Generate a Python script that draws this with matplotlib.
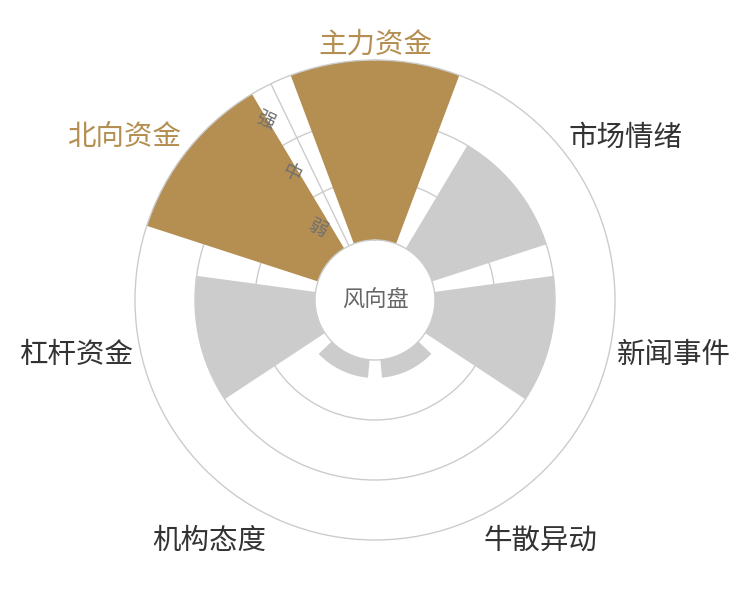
import numpy as np
import matplotlib
matplotlib.use('Agg')
import matplotlib.pyplot as plt

plt.rcParams['font.family'] = ['Noto Sans CJK SC', 'DejaVu Sans']

# 数据
categories = ['主力资金', '市场情绪', '新闻事件', '牛散异动', '机构态度', '杠杆资金', '北向资金']
values = [3, 2, 2, 0.3, 0.3, 2, 3]          # 0~3: 弱/中/强
highlight = [True, False, False, False, False, False, True]
levels = ['弱', '中', '强']

gold = '#b58f52'
grey = '#cccccc'
line = '#cccccc'

n = len(categories)
step = 2 * np.pi / n
thetas = np.arange(n) * step
colors = [gold if h else grey for h in highlight]

fig = plt.figure(figsize=(7.5, 6), dpi=100)
ax = fig.add_axes([0.18, 0.1, 0.64, 0.8], projection='polar')
ax.set_theta_zero_location('N')
ax.set_theta_direction(-1)
ax.set_ylim(0, 3)
ax.set_rorigin(-1)

# 网格
ax.set_xticks([])
ax.set_yticks([1, 2])
ax.set_yticklabels([])
ax.yaxis.grid(True, color=line, lw=1)
ax.set_axisbelow(True)
for s in ['polar', 'inner']:
    ax.spines[s].set_visible(True)
    ax.spines[s].set_color(line)
    ax.spines[s].set_linewidth(1)

ax.bar(thetas, values, width=step * 0.8, bottom=0, color=colors, zorder=2)

# 径向轴
axis_theta = -step / 2
ax.plot([axis_theta, axis_theta], [0, 3], color=line, lw=1, zorder=3)
ang = np.pi / 2 - axis_theta  # 数学角
off = 14.5
for i, lv in enumerate(levels):
    ax.annotate(lv, xy=(axis_theta, i + 0.5),
                xytext=(off * np.cos(ang + np.pi / 2), off * np.sin(ang + np.pi / 2)),
                textcoords='offset points', ha='center', va='center',
                rotation=-26, fontsize=13.5, color='#707070', zorder=4)

# 类别标签
for t, lab, h in zip(thetas, categories, highlight):
    sx, sy = np.sin(t), np.cos(t)
    ha = 'center' if abs(sx) < 0.3 else ('left' if sx > 0 else 'right')
    va = 'center' if abs(sy) < 0.3 else ('baseline' if sy > 0 else 'top')
    r = 3.13 if va != 'top' else 3.18
    ax.text(t, r, lab, ha=ha, va=va, fontsize=20.5,
            color=gold if h else '#333333', clip_on=False)

ax.text(0.5, 0.5, '风向盘', transform=ax.transAxes, ha='center', va='center',
        fontsize=16, color='#666666')

fig.savefig('out.png', dpi=100)
